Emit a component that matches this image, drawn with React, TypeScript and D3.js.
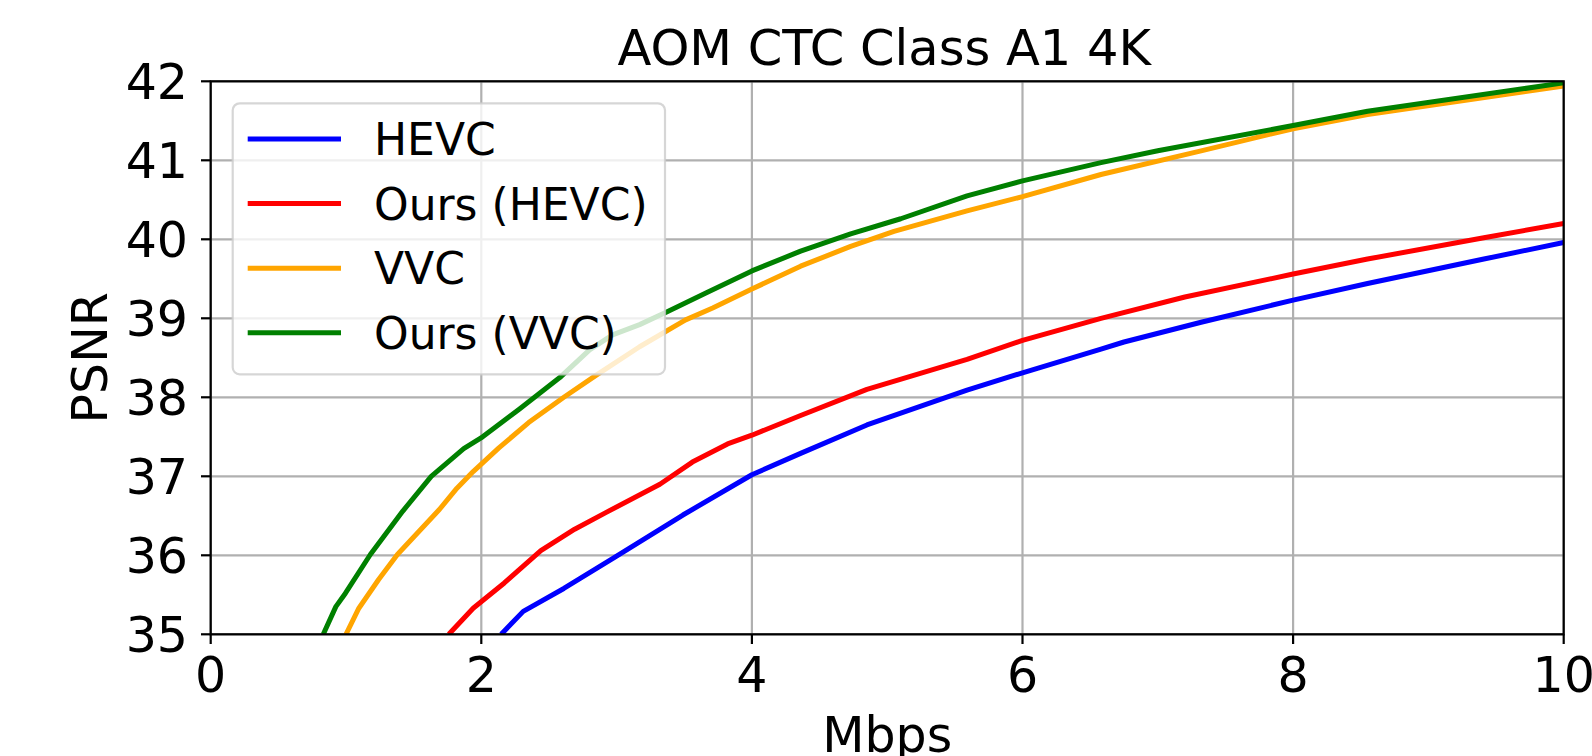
import React from 'react';
import * as d3 from 'd3';

// rate (Mbps) / PSNR (dB) pairs
const hevcRate = [2.147, 2.31, 2.61, 3.0, 3.49, 4.0, 4.36, 4.85, 5.59, 6.0, 6.58, 6.75, 7.32, 8.0, 8.55, 9.41, 10.0];
const hevcPsnr = [35.0, 35.29, 35.58, 35.99, 36.51, 37.02, 37.29, 37.65, 38.09, 38.31, 38.61, 38.7, 38.95, 39.23, 39.44, 39.75, 39.96];

const oursHevcRate = [1.76, 1.94, 2.17, 2.44, 2.69, 2.92, 3.32, 3.56, 3.82, 4.0, 4.36, 4.85, 5.59, 6.0, 6.58, 7.2, 8.0, 8.55, 9.41, 10.0];
const oursHevcPsnr = [35.0, 35.33, 35.65, 36.06, 36.33, 36.54, 36.9, 37.18, 37.41, 37.52, 37.77, 38.1, 38.48, 38.72, 39.0, 39.27, 39.56, 39.75, 40.02, 40.2];

const vvcRate = [1.0, 1.095, 1.24, 1.38, 1.69, 1.82, 1.94, 2.13, 2.35, 2.61, 2.85, 3.17, 3.51, 3.71, 4.0, 4.36, 4.73, 5.05, 5.59, 6.0, 6.58, 7.32, 8.0, 8.55, 10.0];
const vvcPsnr = [35.0, 35.33, 35.69, 36.01, 36.58, 36.85, 37.06, 37.36, 37.68, 38.0, 38.28, 38.64, 38.98, 39.13, 39.37, 39.66, 39.91, 40.1, 40.36, 40.54, 40.82, 41.12, 41.4, 41.58, 41.94];

const oursVvcRate = [0.832, 0.925, 0.996, 1.18, 1.42, 1.63, 1.87, 2.01, 2.28, 2.58, 2.8, 2.97, 3.17, 3.37, 3.66, 4.0, 4.36, 4.73, 5.1, 5.59, 6.0, 6.58, 7.0, 8.0, 8.55, 10.0];
const oursVvcPsnr = [35.0, 35.35, 35.52, 36.01, 36.56, 37.0, 37.35, 37.5, 37.85, 38.25, 38.6, 38.79, 38.92, 39.08, 39.32, 39.6, 39.85, 40.07, 40.26, 40.55, 40.74, 40.97, 41.12, 41.44, 41.62, 41.98];

const seriesNames = ['HEVC', 'Ours (HEVC)', 'VVC', 'Ours (VVC)'];
const seriesColors = ['#0000ff', '#ff0000', '#ffa500', '#008000'];

const xTicks = [0, 2, 4, 6, 8, 10];
const yTicks = [35, 36, 37, 38, 39, 40, 41, 42];

const W = 1592;
const H = 756;
const left = 210.7;
const top = 81.3;
const plotW = 1353;
const plotH = 553;
const font = '"DejaVu Sans", sans-serif';
const fs = 49;
const legendFs = 44;
const lw = 5;

export default function App() {
  const x = d3.scaleLinear().domain([0, 10]).range([left, left + plotW]);
  const y = d3.scaleLinear().domain([35, 42]).range([top + plotH, top]);

  const series = [
    d3.zip(hevcRate, hevcPsnr),
    d3.zip(oursHevcRate, oursHevcPsnr),
    d3.zip(vvcRate, vvcPsnr),
    d3.zip(oursVvcRate, oursVvcPsnr),
  ];

  const line = d3.line<number[]>()
    .x(d => x(d[0]))
    .y(d => y(d[1]));

  // legend geometry
  const lgX = 232.7, lgY = 103.3, lgW = 432.3, lgH = 271;
  const rowY = (i: number) => 139 + i * 64.6;

  return (
    <svg width={W} height={H} style={{ position: 'absolute', left: 0, top: 0, background: '#fff' }}
      fontFamily={font}>
      <defs>
        <clipPath id="plot">
          <rect x={left} y={top} width={plotW} height={plotH} />
        </clipPath>
      </defs>

      {/* grid */}
      {xTicks.map(t => (
        <line key={'gx' + t} x1={x(t)} x2={x(t)} y1={top} y2={top + plotH} stroke="#b0b0b0" strokeWidth={2.2} />
      ))}
      {yTicks.map(t => (
        <line key={'gy' + t} x1={left} x2={left + plotW} y1={y(t)} y2={y(t)} stroke="#b0b0b0" strokeWidth={2.2} />
      ))}

      {/* curves */}
      <g clipPath="url(#plot)">
        {series.map((s, i) => (
          <path key={seriesNames[i]} d={line(s) || ''} fill="none" stroke={seriesColors[i]}
            strokeWidth={lw} strokeLinejoin="round" strokeLinecap="butt" />
        ))}
      </g>

      {/* spines */}
      <rect x={left} y={top} width={plotW} height={plotH} fill="none" stroke="#000" strokeWidth={2.2} />

      {/* ticks */}
      {xTicks.map(t => (
        <g key={'tx' + t}>
          <line x1={x(t)} x2={x(t)} y1={top + plotH} y2={top + plotH + 9.7} stroke="#000" strokeWidth={2.2} />
          <text x={x(t)} y={692} textAnchor="middle" fontSize={fs}>{t}</text>
        </g>
      ))}
      {yTicks.map(t => (
        <g key={'ty' + t}>
          <line x1={left - 9.7} x2={left} y1={y(t)} y2={y(t)} stroke="#000" strokeWidth={2.2} />
          <text x={188} y={y(t) + 18} textAnchor="end" fontSize={fs}>{t}</text>
        </g>
      ))}

      {/* labels */}
      <text x={left + plotW / 2 - 3} y={65} textAnchor="middle" fontSize={49.5}>AOM CTC Class A1 4K</text>
      <text x={left + plotW / 2} y={752} textAnchor="middle" fontSize={fs}>Mbps</text>
      <text transform={`translate(107, ${top + plotH / 2}) rotate(-90)`} textAnchor="middle" fontSize={fs}>PSNR</text>

      {/* legend */}
      <rect x={lgX} y={lgY} width={lgW} height={lgH} rx={7} fill="#fff" fillOpacity={0.8}
        stroke="#cccccc" strokeOpacity={0.8} strokeWidth={2.2} />
      {seriesNames.map((n, i) => (
        <g key={'lg' + n}>
          <line x1={247.7} x2={341} y1={rowY(i)} y2={rowY(i)} stroke={seriesColors[i]} strokeWidth={lw} />
          <text x={374} y={rowY(i) + 16} fontSize={legendFs}>{n}</text>
        </g>
      ))}
    </svg>
  );
}
